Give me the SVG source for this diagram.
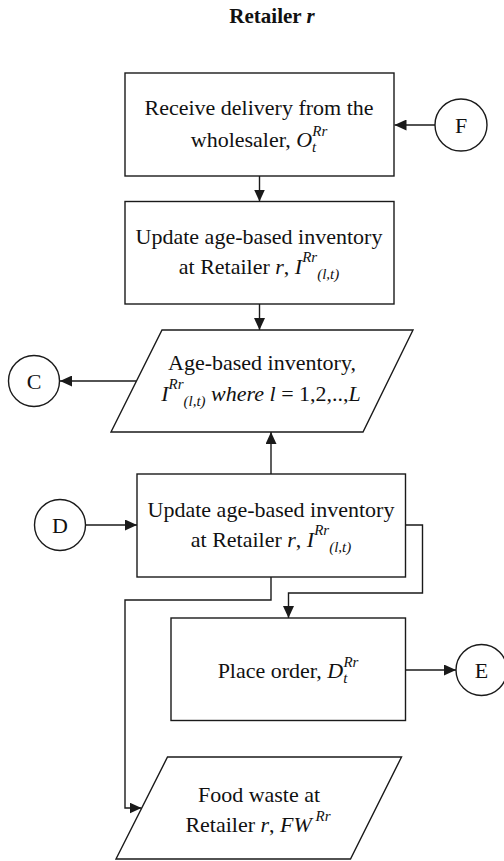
<svg xmlns="http://www.w3.org/2000/svg" width="504" height="861" viewBox="0 0 504 861">
<style>
.shape{fill:#fff;stroke:#1a1a1a;stroke-width:1.4}
.conn{fill:none;stroke:#1a1a1a;stroke-width:1.4}
.t{font-family:"Liberation Serif","Times New Roman",serif;font-size:22px;fill:#111;text-anchor:middle}
.i{font-style:italic}
.s{font-size:15px;font-style:italic}
.title{font-family:"Liberation Serif","Times New Roman",serif;font-size:21px;font-weight:bold;fill:#111;text-anchor:middle}
</style>
<defs>
<marker id="ah" markerUnits="userSpaceOnUse" markerWidth="12" markerHeight="11" refX="12" refY="5.5" orient="auto">
<path d="M0,0 L12,5.5 L0,11 z" fill="#1a1a1a"/>
</marker>
</defs>
<text class="title" x="272" y="23">Retailer <tspan font-style="italic">r</tspan></text>
<g id="connectors">
<line class="conn" x1="259.5" y1="176" x2="259.5" y2="201.5" marker-end="url(#ah)"/>
<line class="conn" x1="435" y1="125" x2="394.5" y2="125" marker-end="url(#ah)"/>
<line class="conn" x1="259.5" y1="304" x2="259.5" y2="330" marker-end="url(#ah)"/>
<line class="conn" x1="136" y1="381" x2="60" y2="381" marker-end="url(#ah)"/>
<line class="conn" x1="271" y1="474" x2="271" y2="432" marker-end="url(#ah)"/>
<line class="conn" x1="86" y1="525" x2="137" y2="525" marker-end="url(#ah)"/>
<polyline class="conn" points="405.5,525 422.5,525 422.5,593 288.5,593 288.5,618" marker-end="url(#ah)"/>
<polyline class="conn" points="271,577 271,600 125,600 125,808 141.5,808" marker-end="url(#ah)"/>
<line class="conn" x1="405.5" y1="670" x2="456" y2="670" marker-end="url(#ah)"/>
</g>
<g id="receive">
<rect class="shape" x="125" y="73" width="269" height="103"/>
<text class="t" x="259" y="115">Receive delivery from the</text>
<text class="t" x="259" y="147">wholesaler, <tspan class="i">O</tspan><tspan class="s" dy="5">t</tspan><tspan class="s" dx="-4" dy="-16">Rr</tspan></text>
</g>
<g id="update1">
<rect class="shape" x="125" y="201.5" width="269" height="102.5"/>
<text class="t" x="259" y="244">Update age-based inventory</text>
<text class="t" x="259" y="274">at Retailer <tspan class="i">r</tspan>, <tspan class="i">I</tspan><tspan class="s" dy="-12">Rr</tspan><tspan class="s" dy="17">(l,t)</tspan></text>
</g>
<g id="inventory">
<polygon class="shape" points="162,330 413,330 363,432 111,432"/>
<text class="t" x="262" y="370">Age-based inventory,</text>
<text class="t" x="261" y="401"><tspan class="i">I</tspan><tspan class="s" dy="-12">Rr</tspan><tspan class="s" dy="17">(l,t)</tspan><tspan class="i" dy="-5"> where l</tspan> = 1,2,..,<tspan class="i">L</tspan></text>
</g>
<g id="update2">
<rect class="shape" x="137" y="474" width="268.5" height="103"/>
<text class="t" x="271" y="517">Update age-based inventory</text>
<text class="t" x="271" y="547">at Retailer <tspan class="i">r</tspan>, <tspan class="i">I</tspan><tspan class="s" dy="-12">Rr</tspan><tspan class="s" dy="17">(l,t)</tspan></text>
</g>
<g id="order">
<rect class="shape" x="171" y="618" width="234.5" height="102.5"/>
<text class="t" x="288" y="678">Place order, <tspan class="i">D</tspan><tspan class="s" dy="5">t</tspan><tspan class="s" dx="-4" dy="-16">Rr</tspan></text>
</g>
<g id="foodwaste">
<polygon class="shape" points="167.5,757 401.5,757 350.5,859 116,859"/>
<text class="t" x="259" y="802">Food waste at</text>
<text class="t" x="258" y="832">Retailer <tspan class="i">r</tspan>, <tspan class="i">FW</tspan><tspan class="s" dy="-11"> Rr</tspan></text>
</g>
<g id="C">
<circle class="shape" cx="34" cy="381" r="25.5"/>
<text class="t" x="34" y="389">C</text>
</g>
<g id="D">
<circle class="shape" cx="60" cy="525" r="25.5"/>
<text class="t" x="60" y="533">D</text>
</g>
<g id="E">
<circle class="shape" cx="481.5" cy="670" r="25.5"/>
<text class="t" x="481.5" y="678">E</text>
</g>
<g id="F">
<circle class="shape" cx="461" cy="125" r="26"/>
<text class="t" x="461" y="133">F</text>
</g>
</svg>
